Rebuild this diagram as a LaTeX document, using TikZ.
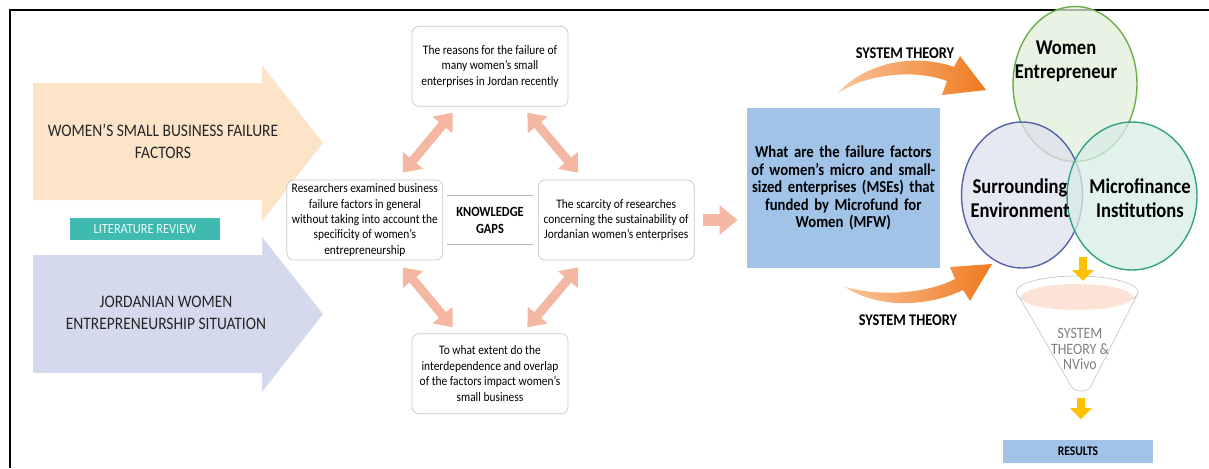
\documentclass[tikz,border=0pt]{standalone}
\usepackage{fontspec}
\setmainfont{Carlito}[FakeStretch=0.88]
\usepackage{xcolor}
\usepackage{tikz}
\usetikzlibrary{arrows.meta,positioning,shapes.geometric}

\definecolor{peach}{HTML}{FCE4C9}
\definecolor{lavender}{HTML}{D5D9ED}
\definecolor{litteal}{HTML}{3EBAAE}
\definecolor{salmon}{HTML}{F4B7A2}
\definecolor{qblue}{HTML}{A0C3E7}
\definecolor{wgreen}{HTML}{6AAE4A}
\definecolor{eblue}{HTML}{5566A8}
\definecolor{mteal}{HTML}{35A283}
\definecolor{arrowyellow}{HTML}{FFC000}
\definecolor{sysorange}{HTML}{F07A20}
\definecolor{funnelpink}{HTML}{FBE3D6}

\begin{document}
\begin{tikzpicture}[
    x=0.02cm, y=-0.02cm,
    node distance=0.9cm and 0.1cm,
    bigtext/.style={align=center, font=\fontsize{10}{12.4}\selectfont, text=black!85},
    gapbox/.style={rectangle, draw=black!22, fill=white, rounded corners=4pt, minimum width=3.12cm, minimum height=1.6cm, inner sep=1pt, align=center, font=\fontsize{7.4}{8.8}\selectfont},
    gaplabel/.style={minimum width=1.7cm, minimum height=0.96cm, inner sep=0pt, align=center, font=\bfseries\fontsize{8}{9.6}\selectfont},
    dblarrow/.style={{Triangle[width=0.5cm,length=0.32cm]}-{Triangle[width=0.5cm,length=0.32cm]}, line width=0.18cm, draw=salmon},
    fwdarrow/.style={-{Triangle[width=0.56cm,length=0.36cm]}, line width=0.24cm, draw=salmon},
    yarrow/.style={-{Triangle[width=0.42cm,length=0.22cm]}, line width=0.16cm, draw=arrowyellow},
    venn/.style={ellipse, draw=#1, line width=0.8pt, fill=#1!20, fill opacity=0.75, minimum width=2.48cm, minimum height=3.0cm, inner sep=0pt},
    venntext/.style={align=center, font=\bfseries\fontsize{12}{13.5}\selectfont},
    theory/.style={font=\bfseries\fontsize{9.3}{10}\selectfont}
]
\useasboundingbox (0,0) rectangle (1209,468);

% frame
\draw[line width=1.6pt] (10,468) -- (10,10) -- (1209,10);

% big input arrows
\fill[peach] (33,83) -- (262,83) -- (262,65) -- (323,143) -- (262,221) -- (262,200) -- (33,200) -- cycle;
\fill[lavender] (33,255) -- (262,255) -- (262,237) -- (323,314) -- (262,392) -- (262,373) -- (33,373) -- cycle;
\node[bigtext] (failure) at (163,141) {WOMEN’S SMALL BUSINESS FAILURE\\FACTORS};
\node[bigtext] (situation) at (166,313) {JORDANIAN WOMEN\\ENTREPRENEURSHIP SITUATION};
\node[fill=litteal, text=white!92!litteal, minimum width=3.02cm, minimum height=0.44cm, inner sep=0pt, font=\fontsize{8}{9}\selectfont] (litrev) at (145,229) {LITERATURE REVIEW};

% knowledge gaps
\node[gaplabel] (gaps) at (490,220) {KNOWLEDGE\\GAPS};
\draw[black!30] (gaps.north west) -- (gaps.north east);
\draw[black!30] (gaps.south west) -- (gaps.south east);
\node[gapbox, above=1.78cm of gaps] (reason) {The reasons for the failure of\\many women’s small\\enterprises in Jordan recently};
\node[gapbox, left=0.08cm of gaps] (examined) {Researchers examined business\\failure factors in general\\without taking into account the\\specificity of women’s\\entrepreneurship};
\node[gapbox, right=0.1cm of gaps] (scarcity) {The scarcity of researches\\concerning the sustainability of\\Jordanian women’s enterprises};
\node[gapbox, below=1.78cm of gaps] (extent) {To what extent do the\\interdependence and overlap\\of the factors impact women’s\\small business};

\draw[dblarrow] ([shift={(41,6)}]reason.south west) -- ([shift={(38,-7)}]examined.north);
\draw[dblarrow] ([shift={(-41,6)}]reason.south east) -- ([shift={(-38,-7)}]scarcity.north);
\draw[dblarrow] ([shift={(38,7)}]examined.south) -- ([shift={(41,-6)}]extent.north west);
\draw[dblarrow] ([shift={(-38,7)}]scarcity.south) -- ([shift={(-41,-6)}]extent.north east);

% research question
\node[fill=qblue, minimum width=3.86cm, minimum height=3.2cm, text width=3.8cm, align=center, inner sep=0pt, font=\bfseries\fontsize{9.5}{9.9}\selectfont, right=1.04cm of scarcity, yshift=0.64cm] (question) {What are the failure factors\\of women’s micro and small-\\sized enterprises (MSEs) that\\funded by Microfund for\\Women (MFW)};
\draw[fwdarrow, shorten <=5pt, shorten >=5pt] (scarcity.east) -- (scarcity.east -| question.west);

% system theory
\shade[left color=sysorange!45, right color=sysorange] (838,93) .. controls (868,60) and (918,54) .. (954,67) -- (960,56) -- (986,90) -- (942,95) -- (947,81) .. controls (918,70) and (870,72) .. (838,93) -- cycle;
\shade[left color=sysorange!45, right color=sysorange] (845,287) .. controls (880,310) and (930,306) .. (963,290) -- (970,301) -- (992,264) -- (950,267) -- (955,279) .. controls (930,292) and (885,298) .. (845,287) -- cycle;
\node[theory] (theorytop) at (905,53) {SYSTEM THEORY};
\node[theory] (theorybot) at (908,320) {SYSTEM THEORY};

% venn
\node[venn=wgreen, minimum height=3.1cm] (women) at (1075,84) {};
\node[venn=eblue, minimum width=2.42cm, minimum height=2.92cm] (environ) at (1022,195) {};
\node[venn=mteal, minimum width=2.6cm, minimum height=2.96cm] (micro) at (1132,196) {};
\node[venntext] at (1066,61) {Women\\Entrepreneur};
\node[venntext] at (1020,198) {Surrounding\\Environment};
\node[venntext] at (1140,198) {Microfinance\\Institutions};

% funnel
\coordinate (vennbot) at (1083,257);
\coordinate (rimtop) at (1083,281);
\coordinate (funbot) at (1081,398);
\draw[black!22] (1017,293) -- (1071,386) to[out=-60,in=-120] (1091,386) -- (1138,293);
\draw[black!22, fill=white] (1077,292) ellipse [x radius=1.22cm, y radius=0.32cm];
\fill[funnelpink] (1077,297) ellipse [x radius=1.12cm, y radius=0.26cm];
\node[align=center, text=black!50, font=\fontsize{9}{8.6}\selectfont] (funnel) at (1080,349) {SYSTEM\\THEORY \&\\NVivo};
\node[fill=qblue, minimum width=3.0cm, minimum height=0.46cm, inner sep=0pt, font=\bfseries\fontsize{7.5}{9}\selectfont] (results) at (1078,451) {RESULTS};

\draw[yarrow] (vennbot) -- (rimtop);
\draw[yarrow] (funbot) -- ([yshift=0.4cm]funbot |- results.north);

\end{tikzpicture}
\end{document}
